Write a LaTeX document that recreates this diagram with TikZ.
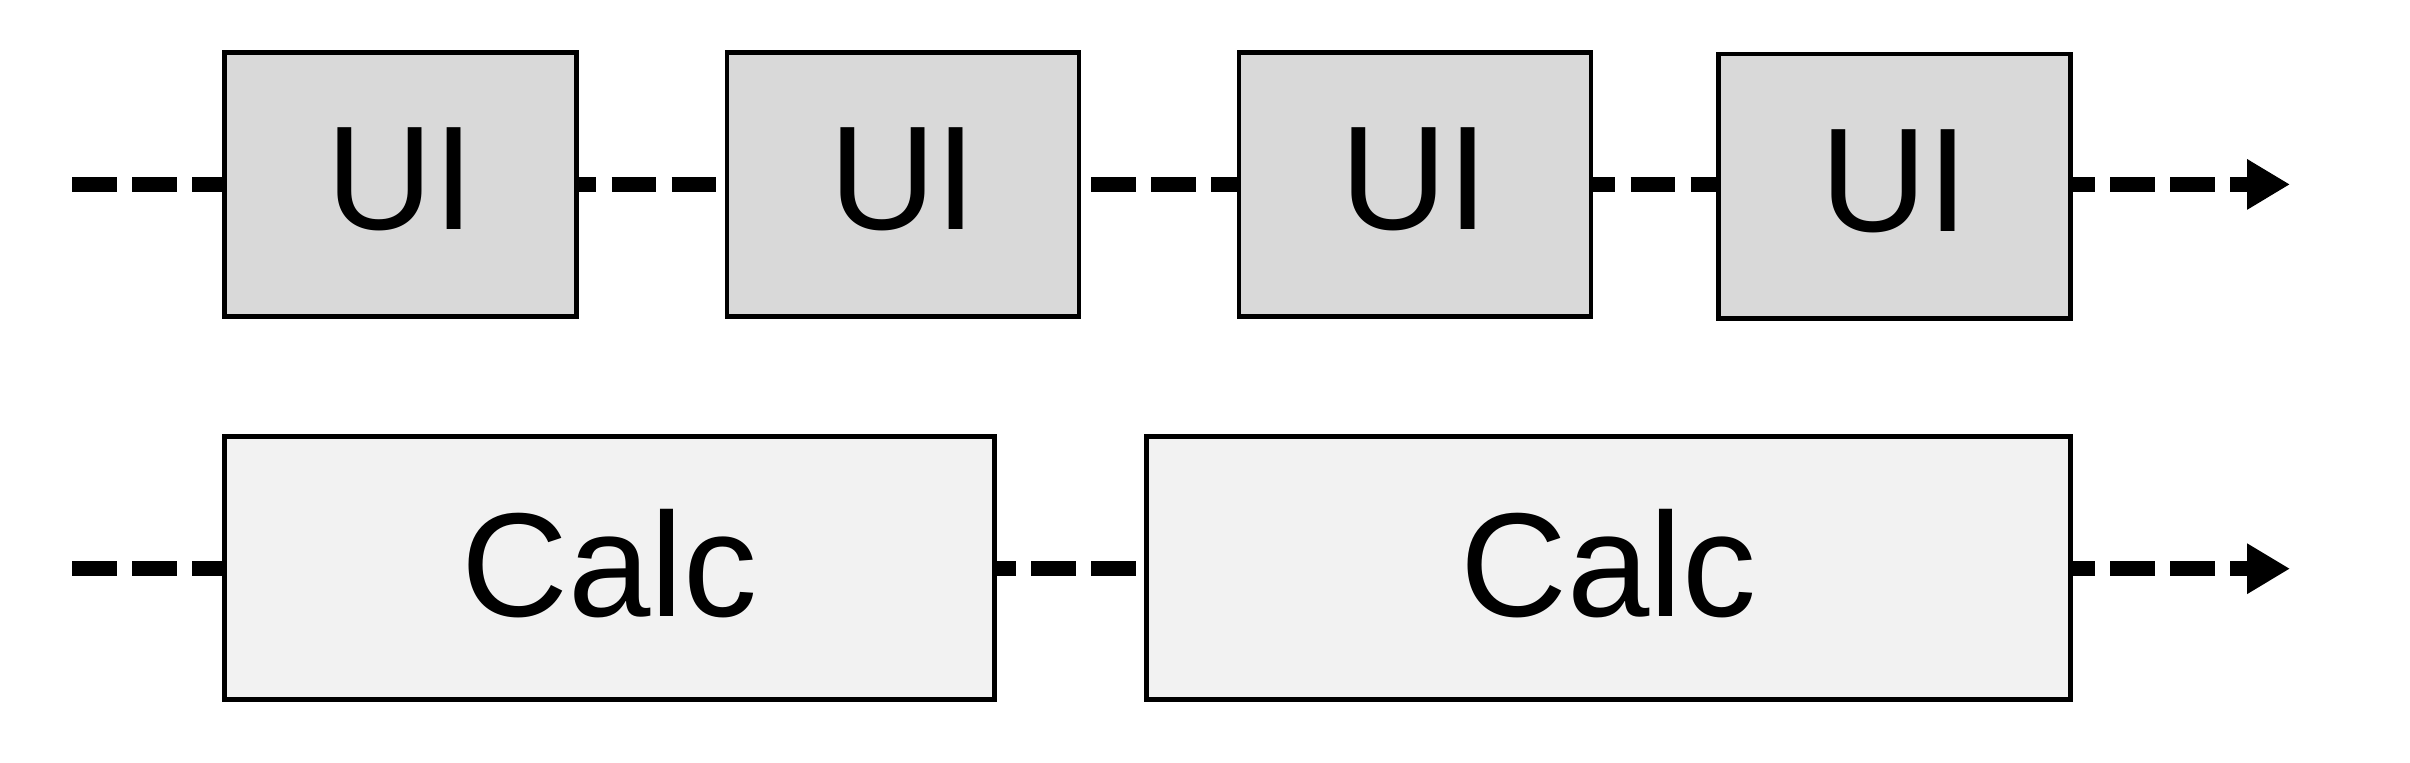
\documentclass[tikz,border=0pt]{standalone}
\usepackage{fontspec}
\setmainfont{Liberation Sans}
\usetikzlibrary{arrows.meta,backgrounds}
\newcommand{\liftlabel}[1]{\raisebox{5.4pt}{#1}}
\tikzset{
  uibox/.style={draw=black, line width=2.3pt, fill={rgb,255:red,217;green,217;blue,217},
    minimum width=176pt, minimum height=132.2pt, inner sep=0pt,
    font=\fontsize{74}{88}\selectfont},
  calcbox/.style={draw=black, line width=2.3pt, fill={rgb,255:red,242;green,242;blue,242},
    minimum height=131.4pt, inner sep=0pt, font=\fontsize{74}{88}\selectfont},
  flow/.style={line width=7.5pt, dash pattern=on 22.3pt off 7.67pt,
    -{Triangle[length=21.5pt,width=23.8pt]}}
}
\begin{document}
\begin{tikzpicture}[x=0.5pt,y=-0.5pt]
\useasboundingbox (0,0) rectangle (2410,762);
% top row
\node[uibox] (u1) at (400.4,184.4) {\liftlabel{UI}};
\node[uibox] (u2) at (903,184.4) {\liftlabel{UI}};
\node[uibox] (u3) at (1414.8,184.4) {\liftlabel{UI}};
\node[uibox] (u4) at (1894.4,186) {\liftlabel{UI}};
% bottom row
\node[calcbox, minimum width=385pt] (c1) at (609.4,567.9) {\liftlabel{Calc}};
\node[calcbox, minimum width=461.9pt] (c2) at (1608.5,567.9) {\liftlabel{Calc}};
% connectors
\coordinate (s1) at (72.2,184.4);
\coordinate (e1) at (2290,184.4);
\coordinate (s2) at (72.2,568.7);
\coordinate (e2) at (2290,568.7);
\begin{scope}[on background layer]
\draw[flow] (s1) -- (e1);
\draw[flow] (s2) -- (e2);
\end{scope}
\end{tikzpicture}
\end{document}
